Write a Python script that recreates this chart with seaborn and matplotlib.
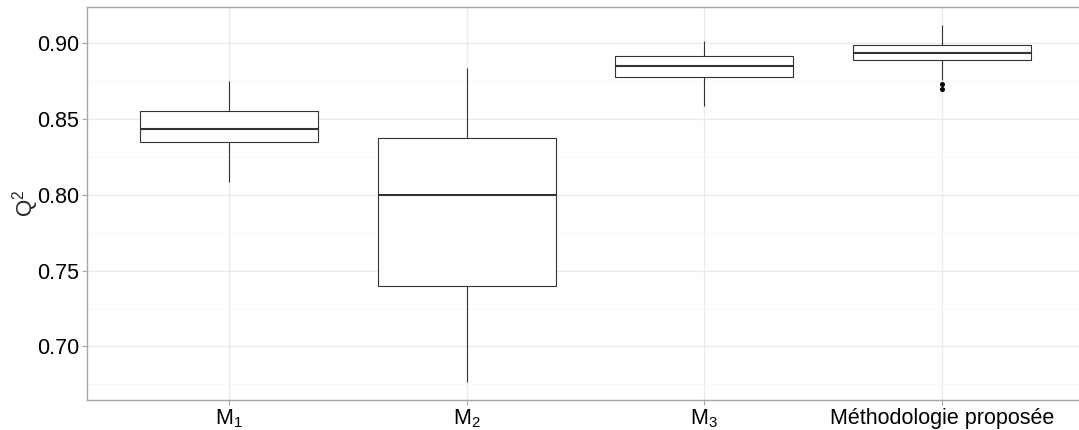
import pandas as pd
import matplotlib
matplotlib.use("Agg")
import matplotlib.pyplot as plt
from matplotlib.ticker import MultipleLocator
import seaborn as sns

# Q2 values (whisker ends, quartiles, median, outliers)
m1 = [0.8082, 0.8347, 0.8431, 0.8550, 0.8750]
m2 = [0.6763, 0.7400, 0.8000, 0.8376, 0.8833]
m3 = [0.8587, 0.8774, 0.8846, 0.8914, 0.9015]
m4 = [0.8696, 0.8728, 0.8756, 0.8886, 0.8886, 0.8886, 0.8936,
      0.8985, 0.8985, 0.8985, 0.9120, 0.9120, 0.9120]
methods = ["M1", "M2", "M3", "Méthodologie proposée"]
tick_labels = [r"M$_1$", r"M$_2$", r"M$_3$", "Méthodologie proposée"]

df = pd.concat([
    pd.DataFrame({"method": name, "q2": vals})
    for name, vals in zip(methods, [m1, m2, m3, m4])
])

sns.set_style("white")
plt.rcParams["font.family"] = ["Liberation Sans", "DejaVu Sans"]
plt.rcParams["mathtext.fontset"] = "custom"
plt.rcParams["mathtext.rm"] = "Liberation Sans"
plt.rcParams["mathtext.it"] = "Liberation Sans:italic"

fig = plt.figure(figsize=(10.79, 4.30), dpi=100)
ax = fig.add_axes([86.8 / 1079, 30 / 430, 997.5 / 1079, 393.3 / 430])

sns.boxplot(data=df, x="method", y="q2", order=methods, ax=ax,
            width=0.75, color="white", saturation=1, linecolor="#333333",
            linewidth=0.8, whis=1.5, showcaps=False,
            medianprops=dict(color="#333333", linewidth=1.5),
            flierprops=dict(marker="o", markersize=2.6,
                            markerfacecolor="black", markeredgecolor="black"))

ax.set_xlim(-0.6, 3.6)
ax.set_ylim(0.6647, 0.9239)
ax.yaxis.set_major_locator(MultipleLocator(0.05))
ax.yaxis.set_minor_locator(MultipleLocator(0.025))
ax.set_yticks([0.70, 0.75, 0.80, 0.85, 0.90])
ax.set_yticklabels(["0.70", "0.75", "0.80", "0.85", "0.90"])
ax.set_xticks(range(4))
ax.set_xticklabels(tick_labels)

ax.set_axisbelow(True)
ax.grid(which="major", color="#ebebeb", linewidth=1.0)
ax.grid(which="minor", axis="y", color="#f6f6f6", linewidth=0.6)

for sp in ax.spines.values():
    sp.set_color("#a6a6a6")
    sp.set_linewidth(1.0)

ax.tick_params(axis="both", which="major", length=3.5, width=0.8,
               color="#a6a6a6", labelcolor="black", labelsize=15.5, pad=2,
               left=True, bottom=True)
ax.tick_params(axis="y", which="minor", length=0)

ax.set_xlabel("")
ax.set_ylabel(r"Q$^2$", fontsize=16, labelpad=-3)

fig.savefig("out.png", dpi=100)
